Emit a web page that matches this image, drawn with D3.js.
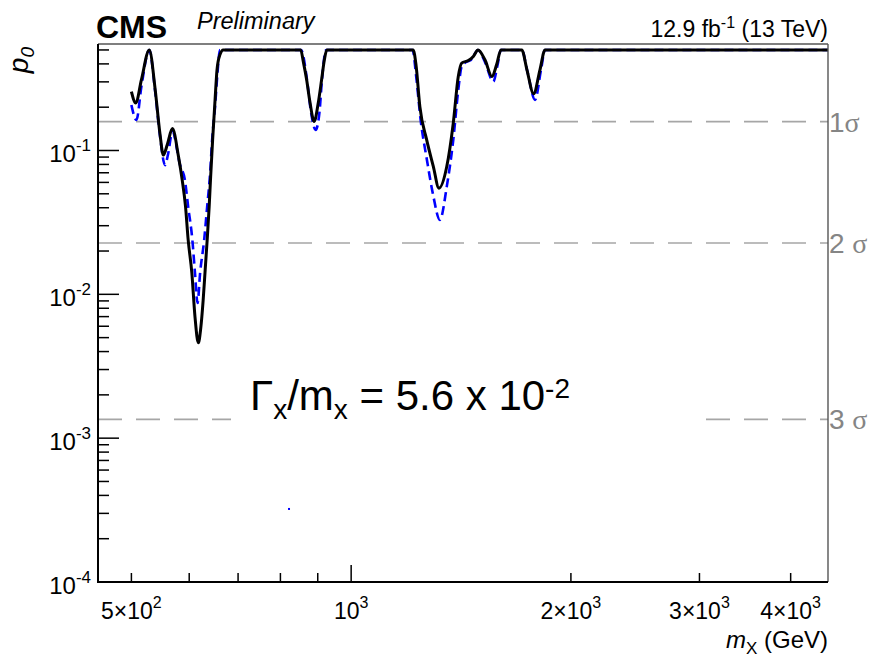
<!DOCTYPE html>
<html>
<head>
<meta charset="utf-8">
<script src="https://cdn.jsdelivr.net/npm/d3@7"></script>
<style>
  body { margin: 0; background: #fff; }
  svg { display: block; }
  text { font-family: "Liberation Sans", Arial, Helvetica, sans-serif; }
</style>
</head>
<body>
<svg id="chart" width="869" height="663"></svg>
<script>
// Observed local p-value vs resonance mass
const massObs = [500, 507, 516, 529, 539, 547, 553, 560, 569, 580, 587, 593, 598, 605, 611, 617.5, 622, 627, 631, 635, 639, 642, 646, 651, 655, 661, 668,
  853, 860, 869, 878, 890, 901, 911, 919, 926,
  1216, 1227, 1242, 1269, 1296, 1319, 1352, 1380, 1402, 1417, 1447, 1470, 1492, 1525, 1559, 1582, 1604,
  1713, 1741, 1778, 1814, 1843, 4500];
const p0Obs = [0.257, 0.214, 0.31, 0.5, 0.264, 0.132, 0.093, 0.11, 0.142, 0.091, 0.062, 0.041, 0.024, 0.0141, 0.0070, 0.0046, 0.0057, 0.0091, 0.0148, 0.0239, 0.0407, 0.066, 0.1185, 0.225, 0.364, 0.462, 0.5,
  0.5, 0.413, 0.31, 0.218, 0.159, 0.211, 0.31, 0.427, 0.5,
  0.5, 0.394, 0.202, 0.1185, 0.0773, 0.0547, 0.0773, 0.155, 0.327, 0.405, 0.422, 0.45, 0.5, 0.427, 0.327, 0.394, 0.5,
  0.5, 0.364, 0.248, 0.364, 0.5, 0.5];

// Second (dashed) p-value curve
const massAlt = [500, 508, 516, 529, 539, 547, 556, 561, 569, 583, 592, 598, 606, 611, 616, 621, 629, 635, 641, 645, 651, 656, 661,
  854, 870, 881, 894, 905, 912, 924,
  1214, 1227, 1245, 1270, 1295, 1323, 1352, 1380, 1402, 1417, 1437, 1455, 1470, 1492, 1525, 1566, 1587, 1604,
  1713, 1744, 1786, 1820, 1843, 4500];
const p0Alt = [0.207, 0.163, 0.278, 0.5, 0.256, 0.128, 0.079, 0.093, 0.135, 0.079, 0.062, 0.0407, 0.0239, 0.0141, 0.0087, 0.0141, 0.0239, 0.0407, 0.0699, 0.1185, 0.202, 0.346, 0.5,
  0.5, 0.31, 0.1855, 0.139, 0.1855, 0.31, 0.5,
  0.5, 0.3355, 0.1632, 0.086, 0.0491, 0.0329, 0.0561, 0.1185, 0.264, 0.383, 0.413, 0.422, 0.45, 0.5, 0.413, 0.301, 0.394, 0.5,
  0.5, 0.352, 0.225, 0.364, 0.5, 0.5];

// Stray single point of the dashed series
const strayMass = [822];
const strayP0 = [3.22e-4];

// Significance reference levels (one-sided p-values)
const sigmaLabels = ["1\u03c3", "2 \u03c3", "3 \u03c3"];
const sigmaP0 = [0.158655, 0.02275, 0.0013499];

// Axis ticks
const yMajorTicks = [1e-4, 1e-3, 1e-2, 1e-1];
const yMajorExp = ["-4", "-3", "-2", "-1"];
const xMinorTicks = [500, 600, 700, 800, 900, 2000, 3000, 4000];
const xMajorTicks = [1000];
const xLabelValues = [500, 1000, 2000, 3000, 4000];
const xLabelMant = ["5\u00d710", "10", "2\u00d710", "3\u00d710", "4\u00d710"];
const xLabelExp = ["2", "3", "3", "3", "3"];

const W = 869, H = 663;
const margin = { top: 44, right: 41, bottom: 81, left: 98 };
const x0 = margin.left, x1 = W - margin.right;
const y0 = H - margin.bottom, y1 = margin.top;

const x = d3.scaleLog().domain([450, 4500]).range([x0, x1]);
const y = d3.scaleLog().domain([1e-4, 0.55]).range([y0, y1]);

const svg = d3.select("#chart");

svg.append("defs").append("clipPath").attr("id", "plotclip")
  .append("rect").attr("x", x0).attr("y", y1).attr("width", x1 - x0).attr("height", y0 - y1);

// significance lines
const sig = svg.append("g");
sig.selectAll("line").data(sigmaP0).join("line")
  .attr("x1", x0).attr("x2", x1)
  .attr("y1", d => y(d)).attr("y2", d => y(d))
  .attr("stroke", "#a6a6a6").attr("stroke-width", 1.6)
  .attr("stroke-dasharray", "24,14");
sig.selectAll("text").data(sigmaP0).join("text")
  .attr("x", x1 + 1).attr("y", d => y(d) + 10)
  .attr("fill", "#858585").attr("font-size", 28)
  .each(function(d, i) {
    const t = d3.select(this);
    const lab = sigmaLabels[i];
    t.append("tspan").text(lab.slice(0, lab.length - 1));
    t.append("tspan").attr("font-family", "'Liberation Serif', 'Times New Roman', serif").text(lab.slice(-1));
  });

// curves
const line = d3.line().x(d => x(d[0])).y(d => y(d[1])).curve(d3.curveMonotoneX);
const plot = svg.append("g").attr("clip-path", "url(#plotclip)");
plot.append("path")
  .datum(massAlt.map((m, i) => [m, p0Alt[i]]))
  .attr("d", line).attr("fill", "none")
  .attr("stroke", "#0000ff").attr("stroke-width", 2.6)
  .attr("stroke-dasharray", "9,5");
plot.append("path")
  .datum(massObs.map((m, i) => [m, p0Obs[i]]))
  .attr("d", line).attr("fill", "none")
  .attr("stroke", "#000").attr("stroke-width", 3)
  .attr("stroke-linejoin", "round");
plot.selectAll("rect.stray").data(strayMass).join("rect")
  .attr("class", "stray")
  .attr("x", (d) => x(d) - 1).attr("y", (d, i) => y(strayP0[i]) - 1)
  .attr("width", 2).attr("height", 2).attr("fill", "#0000ff");

// width annotation on white box
svg.append("rect").attr("x", 231).attr("y", 362).attr("width", 462).attr("height", 80).attr("fill", "#fff");
const ann = svg.append("text").attr("x", 250).attr("y", 410)
  .attr("font-family", "Lato, 'Open Sans', sans-serif").attr("font-size", 42).attr("fill", "#000");
ann.append("tspan").text("\u0393");
ann.append("tspan").attr("font-size", 28).attr("dy", 9).text("x");
ann.append("tspan").attr("dy", -9).text("/m");
ann.append("tspan").attr("font-size", 28).attr("dy", 9).text("x");
ann.append("tspan").attr("dy", -9).text(" = 5.6 x 10");
ann.append("tspan").attr("font-size", 28).attr("dy", -12).text("-2");

// frame
svg.append("line").attr("x1", x0).attr("x2", x1).attr("y1", y1).attr("y2", y1)
  .attr("stroke", "#000").attr("stroke-width", 1.2);
svg.append("line").attr("x1", x1).attr("x2", x1).attr("y1", y1).attr("y2", y0)
  .attr("stroke", "#555").attr("stroke-width", 1.4);

// y axis
const ya = svg.append("g");
ya.append("line").attr("x1", x0).attr("x2", x0).attr("y1", y1).attr("y2", y0 + 1)
  .attr("stroke", "#000").attr("stroke-width", 2);
const yMinor = [];
[-4, -3, -2, -1].forEach(k => {
  for (let m = 2; m <= 9; m++) {
    const v = m * Math.pow(10, k);
    if (v <= 0.55) yMinor.push(v);
  }
});
ya.selectAll("line.minor").data(yMinor).join("line").attr("class", "minor")
  .attr("x1", x0).attr("x2", x0 + 11).attr("y1", d => y(d)).attr("y2", d => y(d))
  .attr("stroke", "#000").attr("stroke-width", 1.5);
ya.selectAll("line.major").data(yMajorTicks).join("line").attr("class", "major")
  .attr("x1", x0).attr("x2", x0 + 21).attr("y1", d => y(d)).attr("y2", d => y(d))
  .attr("stroke", "#000").attr("stroke-width", 1.5);
ya.selectAll("text").data(yMajorTicks).join("text")
  .attr("x", 91).attr("y", d => y(d) + 12)
  .attr("text-anchor", "end").attr("font-size", 24).attr("fill", "#000")
  .each(function(d, i) {
    const t = d3.select(this);
    t.append("tspan").text("10");
    t.append("tspan").attr("font-size", 17).attr("dy", -11).text(yMajorExp[i]);
  });

// x axis
const xa = svg.append("g");
xa.append("line").attr("x1", x0 - 1).attr("x2", x1).attr("y1", y0).attr("y2", y0)
  .attr("stroke", "#000").attr("stroke-width", 2);
xa.selectAll("line.minor").data(xMinorTicks).join("line").attr("class", "minor")
  .attr("x1", d => x(d)).attr("x2", d => x(d)).attr("y1", y0).attr("y2", y0 - 9)
  .attr("stroke", "#000").attr("stroke-width", 1.5);
xa.selectAll("line.major").data(xMajorTicks).join("line").attr("class", "major")
  .attr("x1", d => x(d)).attr("x2", d => x(d)).attr("y1", y0).attr("y2", y0 - 17)
  .attr("stroke", "#000").attr("stroke-width", 1.5);
xa.selectAll("text").data(xLabelValues).join("text")
  .attr("x", d => x(d)).attr("y", 619)
  .attr("text-anchor", "middle").attr("font-size", 23).attr("fill", "#000")
  .each(function(d, i) {
    const t = d3.select(this);
    t.append("tspan").text(xLabelMant[i]);
    t.append("tspan").attr("font-size", 16).attr("dy", -11).text(xLabelExp[i]);
  });

// axis titles
const xt = svg.append("text").attr("x", x1).attr("y", 648)
  .attr("text-anchor", "end").attr("font-size", 24).attr("fill", "#000");
xt.append("tspan").attr("font-style", "italic").text("m");
xt.append("tspan").attr("font-size", 17).attr("dy", 6).text("X");
xt.append("tspan").attr("dy", -6).text(" (GeV)");

const yt = svg.append("text")
  .attr("transform", `translate(28,${y1 + 3}) rotate(-90)`)
  .attr("text-anchor", "end").attr("font-size", 28).attr("font-style", "italic").attr("fill", "#000");
yt.append("tspan").text("p");
yt.append("tspan").attr("font-size", 19).attr("dy", 6).text("0");

// header
svg.append("text").attr("x", 96).attr("y", 38)
  .attr("font-size", 32).attr("font-weight", "bold").attr("fill", "#000").text("CMS");
svg.append("text").attr("x", 197).attr("y", 29)
  .attr("font-size", 23.5).attr("font-style", "italic").attr("fill", "#000").text("Preliminary");
const lumi = svg.append("text").attr("x", x1).attr("y", 37)
  .attr("text-anchor", "end").attr("font-size", 23).attr("fill", "#000");
lumi.append("tspan").text("12.9 fb");
lumi.append("tspan").attr("font-size", 16).attr("dy", -9).text("-1");
lumi.append("tspan").attr("dy", 9).text(" (13 TeV)");
</script>
</body>
</html>
